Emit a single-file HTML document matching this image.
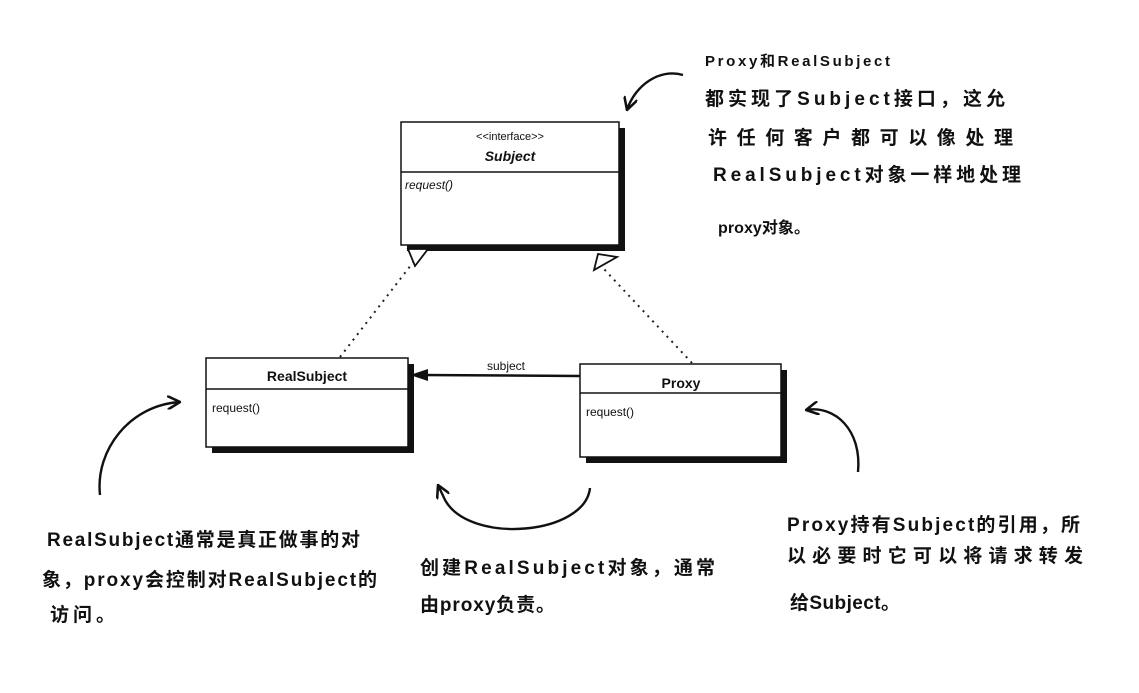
<!DOCTYPE html>
<html><head><meta charset="utf-8"><style>
html,body{margin:0;padding:0;background:#fff;}
svg{display:block;}
.h{font-family:"Liberation Sans","Noto Sans CJK SC",sans-serif;font-weight:bold;fill:#111;}
.u{font-family:"Liberation Sans",sans-serif;fill:#111;}
</style></head><body>
<svg width="1139" height="693" viewBox="0 0 1139 693" xmlns="http://www.w3.org/2000/svg">
<defs>
<marker id="ah" viewBox="0 0 12 12" refX="11" refY="6" markerWidth="14" markerHeight="14" orient="auto" markerUnits="userSpaceOnUse">
<path d="M0,0 L11,6 L0,12" fill="none" stroke="#111" stroke-width="2.2"/></marker>
</defs>
<line x1="340" y1="357" x2="418" y2="256" stroke="#222" stroke-width="2" stroke-dasharray="2,5"/>
<line x1="692" y1="363" x2="603" y2="268" stroke="#222" stroke-width="2" stroke-dasharray="2,5"/>
<rect x="407" y="128" width="218" height="123" fill="#111"/>
<rect x="401" y="122" width="218" height="123" fill="#fff" stroke="#111" stroke-width="1.5"/>
<line x1="401" y1="172" x2="619" y2="172" stroke="#111" stroke-width="1.5"/>
<text x="510" y="140" text-anchor="middle" class="u" font-size="11">&lt;&lt;interface&gt;&gt;</text>
<text x="510" y="161" text-anchor="middle" class="u" font-size="14" font-weight="bold" font-style="italic">Subject</text>
<text x="405" y="189" class="u" font-size="12" font-style="italic">request()</text>
<polygon points="408,249 428,249 415,266" fill="#fff" stroke="#111" stroke-width="1.8"/>
<polygon points="598,254 617,257 594,270" fill="#fff" stroke="#111" stroke-width="1.8"/>
<rect x="212" y="364" width="202" height="89" fill="#111"/>
<rect x="206" y="358" width="202" height="89" fill="#fff" stroke="#111" stroke-width="1.5"/>
<line x1="206" y1="389" x2="408" y2="389" stroke="#111" stroke-width="1.5"/>
<text x="307" y="381" text-anchor="middle" class="u" font-size="14" font-weight="bold">RealSubject</text>
<text x="212" y="412" class="u" font-size="12">request()</text>
<rect x="586" y="370" width="201" height="93" fill="#111"/>
<rect x="580" y="364" width="201" height="93" fill="#fff" stroke="#111" stroke-width="1.5"/>
<line x1="580" y1="393" x2="781" y2="393" stroke="#111" stroke-width="1.5"/>
<text x="681" y="388" text-anchor="middle" class="u" font-size="14" font-weight="bold">Proxy</text>
<text x="586" y="416" class="u" font-size="12">request()</text>
<line x1="580" y1="376" x2="420" y2="375" stroke="#111" stroke-width="2.5"/>
<polygon points="410,375 428,369 428,381" fill="#111"/>
<text x="506" y="370" text-anchor="middle" class="u" font-size="12">subject</text>
<path d="M683,75 C660,68 635,85 627,110" fill="none" stroke="#111" stroke-width="2.4" marker-end="url(#ah)"/>
<path d="M100,495 C95,450 130,405 180,402" fill="none" stroke="#111" stroke-width="2.4" marker-end="url(#ah)"/>
<path d="M590,488 C585,535 470,545 445,500 L438,485" fill="none" stroke="#111" stroke-width="2.4" marker-end="url(#ah)"/>
<path d="M858,472 C862,430 835,405 806,410" fill="none" stroke="#111" stroke-width="2.4" marker-end="url(#ah)"/>
<g class="h" font-size="19">
<text x="705" y="66" textLength="185" font-size="15">Proxy和RealSubject</text>
<text x="705" y="105" textLength="300">都实现了Subject接口，这允</text>
<text x="708" y="144" textLength="305">许任何客户都可以像处理</text>
<text x="713" y="181" textLength="308">RealSubject对象一样地处理</text>
<text x="718" y="233" textLength="92" font-size="16">proxy对象。</text>

<text x="47" y="546" textLength="313">RealSubject通常是真正做事的对</text>
<text x="42" y="586" textLength="335">象，proxy会控制对RealSubject的</text>
<text x="50" y="621" textLength="65">访问。</text>

<text x="420" y="574" textLength="295">创建RealSubject对象，通常</text>
<text x="420" y="611" textLength="135">由proxy负责。</text>

<text x="787" y="531" textLength="293">Proxy持有Subject的引用，所</text>
<text x="787" y="562" textLength="296">以必要时它可以将请求转发</text>
<text x="790" y="609" textLength="110">给Subject。</text>
</g>
</svg>
</body></html>
